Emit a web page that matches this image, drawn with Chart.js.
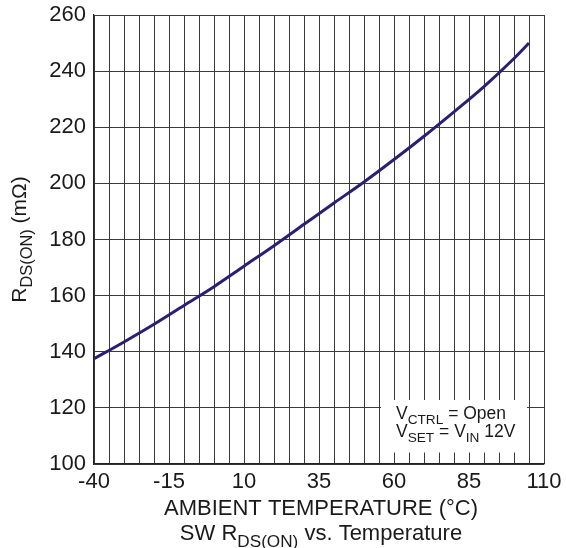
<!DOCTYPE html>
<html>
<head>
<meta charset="utf-8">
<script src="https://cdn.jsdelivr.net/npm/chart.js@4/dist/chart.umd.min.js"></script>
<style>
html,body{margin:0;padding:0;background:#fff;}
#wrap{width:566px;height:548px;}
</style>
</head>
<body>
<div id="wrap"><canvas id="c" width="566" height="548"></canvas></div>
<script>
const temperatures = [-40, -30, -20, -10, 0, 10, 20, 30, 40, 50, 60, 70, 80, 90, 100, 105];
const rdsOn = [137.5, 143.5, 149.8, 156.5, 163.2, 170.5, 177.8, 185.4, 193.0, 200.5, 208.5, 216.8, 225.5, 234.5, 244.5, 250.0];
const xTickLabels = [-40, -15, 10, 35, 60, 85, 110];
const yTickLabels = [100, 120, 140, 160, 180, 200, 220, 240, 260];

const FONT = '"Liberation Sans", Arial, sans-serif';

function drawRich(ctx, segs, x, y, size, align) {
  const subSize = size * 0.78;
  let w = 0;
  segs.forEach(s => { ctx.font = (s[1] ? subSize : size) + 'px ' + FONT; w += ctx.measureText(s[0]).width; });
  let cx = align === 'center' ? x - w / 2 : x;
  ctx.textAlign = 'left';
  ctx.textBaseline = 'alphabetic';
  segs.forEach(s => {
    ctx.font = (s[1] ? subSize : size) + 'px ' + FONT;
    ctx.fillText(s[0], cx, y + (s[1] ? size * 0.3 : 0));
    cx += ctx.measureText(s[0]).width;
  });
}

const decor = {
  id: 'decor',
  afterDraw(chart) {
    const ctx = chart.ctx;
    const xs = chart.scales.x, ys = chart.scales.y;
    const ca = chart.chartArea;
    ctx.save();
    const bx0 = xs.getPixelForValue(55) + 2, bx1 = xs.getPixelForValue(105) - 2;
    const by0 = ys.getPixelForValue(122.8), by1 = ys.getPixelForValue(104.1);
    ctx.fillStyle = '#fff';
    ctx.fillRect(bx0, by0, bx1 - bx0, by1 - by0);
    ctx.fillStyle = '#1a1a1a';
    drawRich(ctx, [['V', false], ['CTRL', true], [' = Open', false]], bx0 + 15, by0 + 19, 17.5, 'left');
    drawRich(ctx, [['V', false], ['SET', true], [' = V', false], ['IN', true], [' 12V', false]], bx0 + 15, by0 + 37, 17.5, 'left');
    const cxm = (ca.left + ca.right) / 2 + 2;
    drawRich(ctx, [['AMBIENT TEMPERATURE (°C)', false]], cxm, 515, 22, 'center');
    drawRich(ctx, [['SW R', false], ['DS(ON)', true], [' vs. Temperature', false]], cxm, 540, 22, 'center');
    ctx.translate(26, (ca.top + ca.bottom) / 2);
    ctx.rotate(-Math.PI / 2);
    drawRich(ctx, [['R', false], ['DS(ON)', true], [' (mΩ)', false]], 0, 0, 21, 'center');
    ctx.restore();
  }
};

new Chart(document.getElementById('c'), {
  type: 'line',
  data: {
    datasets: [{
      data: temperatures.map((t, i) => ({ x: t, y: rdsOn[i] })),
      borderColor: '#2b1f73',
      borderWidth: 3,
      pointRadius: 0,
      tension: 0.4,
      cubicInterpolationMode: 'monotone',
      fill: false
    }]
  },
  options: {
    responsive: false,
    animation: false,
    events: [],
    layout: { padding: { top: 15, right: 22, left: 0, bottom: 0 } },
    plugins: { legend: { display: false }, tooltip: { enabled: false }, title: { display: false } },
    scales: {
      x: {
        type: 'linear',
        min: -40, max: 110,
        afterBuildTicks(scale) {
          const t = [];
          for (let v = -40; v <= 110; v += 5) t.push({ value: v });
          scale.ticks = t;
        },
        afterFit(scale) { scale.height = 548 - 464; scale.paddingLeft = 0; scale.paddingRight = 0; },
        grid: { color: '#3a3a3a', lineWidth: 1, drawTicks: false },
        border: { color: '#222', width: 1.2 },
        ticks: {
          autoSkip: false, maxRotation: 0, minRotation: 0, padding: 5,
          color: '#1a1a1a', font: { family: FONT, size: 22 },
          callback: v => xTickLabels.includes(v) ? String(v) : ''
        }
      },
      y: {
        type: 'linear',
        min: 100, max: 260,
        afterBuildTicks(scale) { scale.ticks = yTickLabels.map(v => ({ value: v })); },
        afterFit(scale) { scale.width = 94; scale.paddingTop = 0; scale.paddingBottom = 0; },
        grid: { color: '#3a3a3a', lineWidth: 1, drawTicks: false },
        border: { color: '#222', width: 1.2 },
        ticks: {
          padding: 8, color: '#1a1a1a', font: { family: FONT, size: 22 },
          callback: v => String(v)
        }
      }
    }
  },
  plugins: [decor]
});
</script>
</body>
</html>
